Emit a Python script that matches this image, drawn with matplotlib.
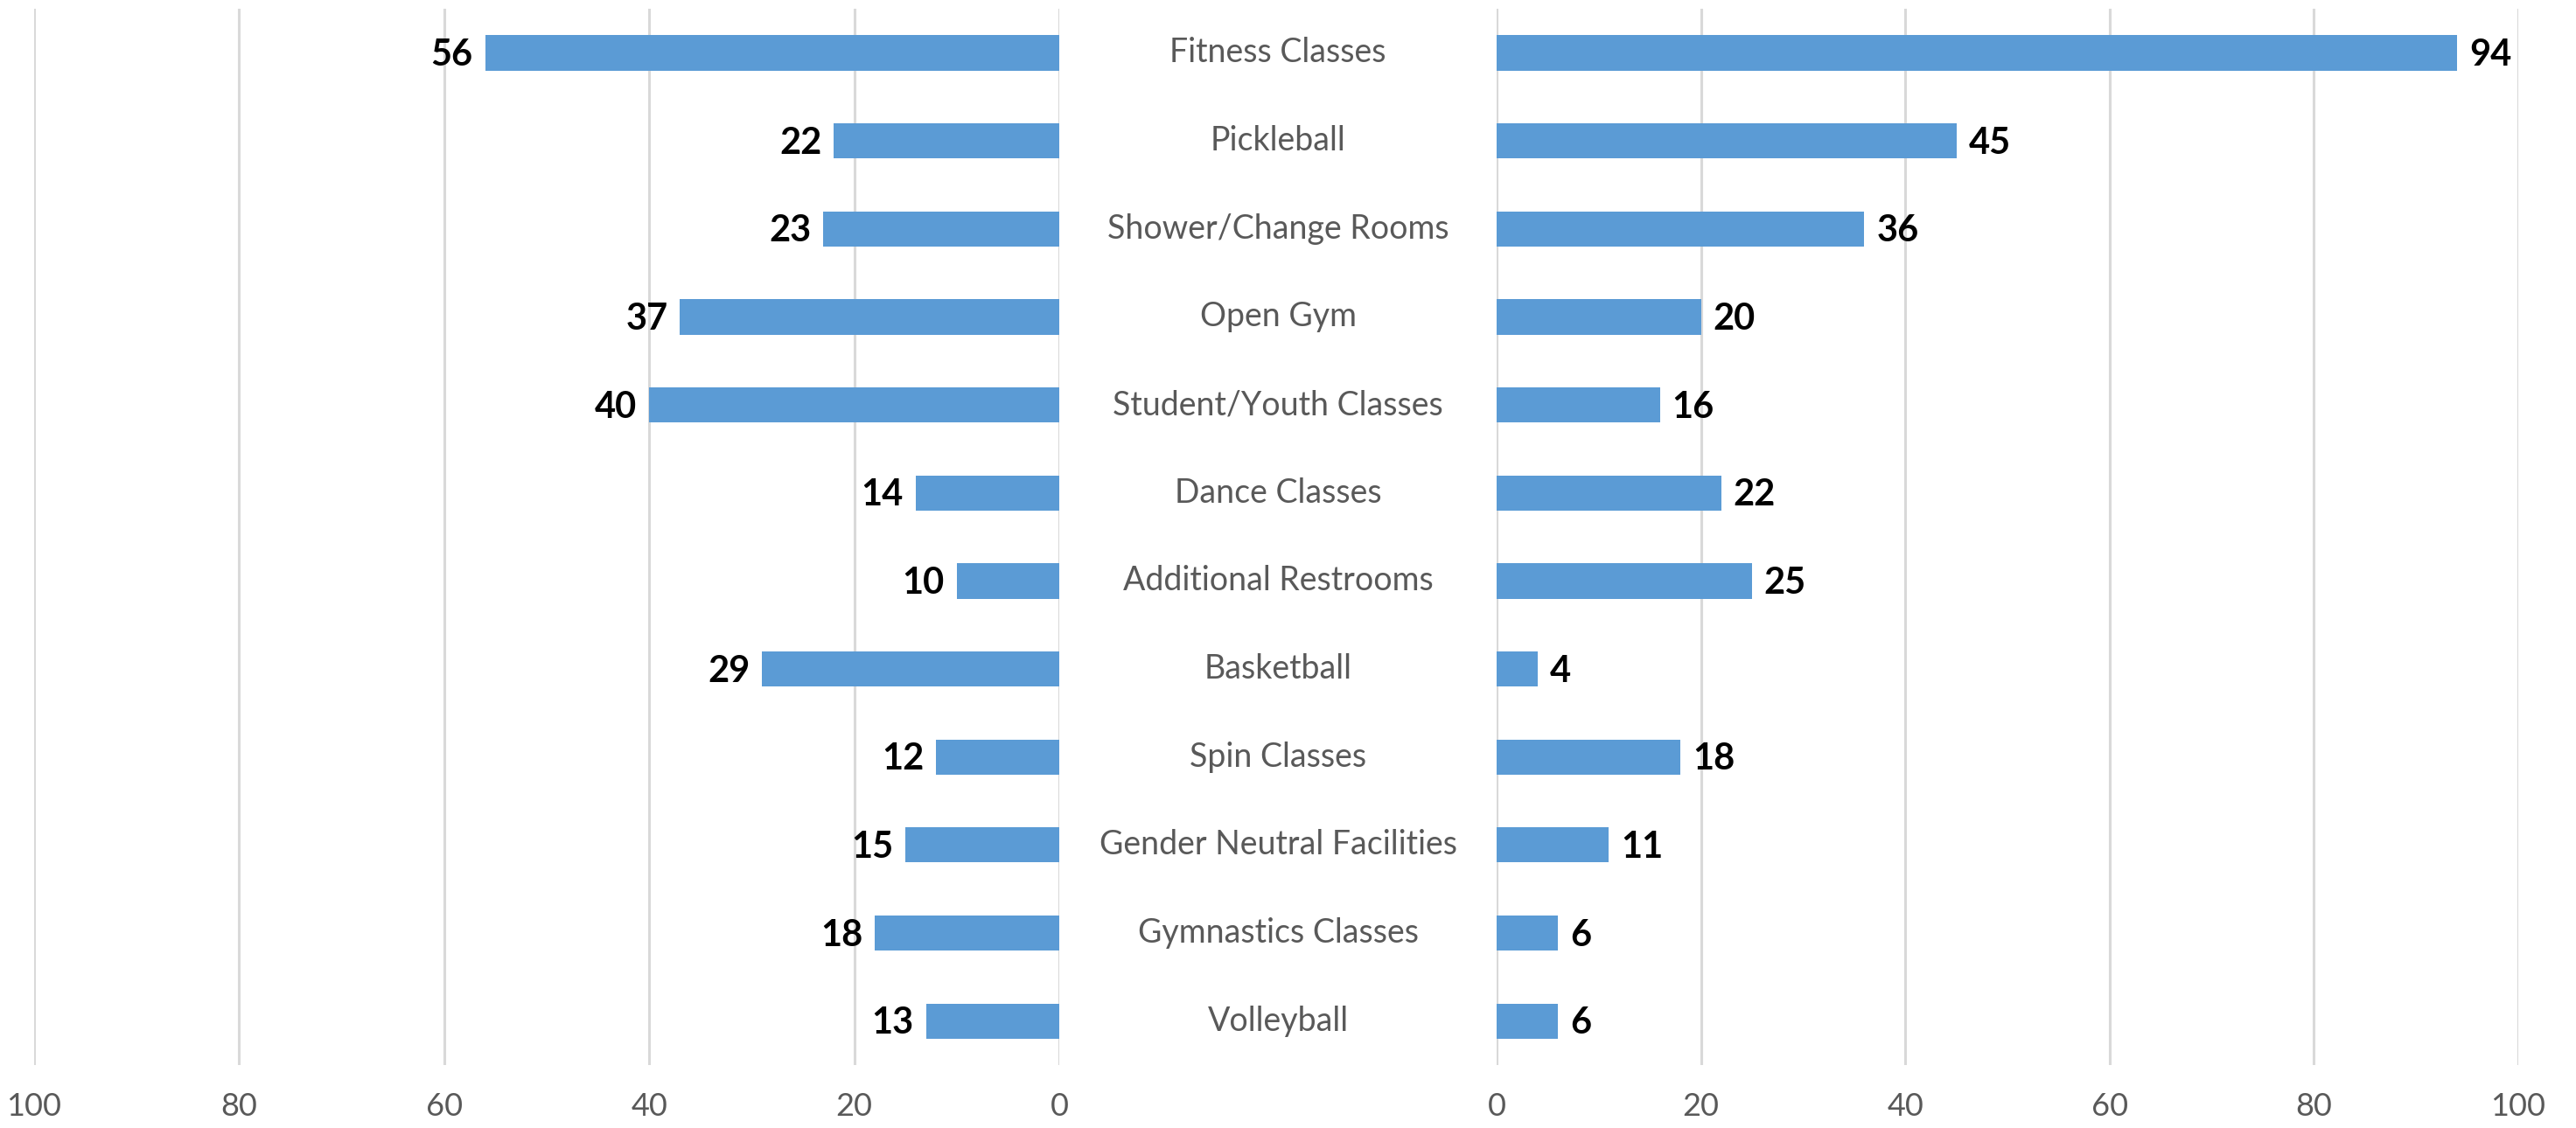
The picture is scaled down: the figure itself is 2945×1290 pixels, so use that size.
import matplotlib.pyplot as plt
from matplotlib.transforms import blended_transform_factory


CATEGORIES = [
    "Fitness Classes",
    "Pickleball",
    "Shower/Change Rooms",
    "Open Gym",
    "Student/Youth Classes",
    "Dance Classes",
    "Additional Restrooms",
    "Basketball",
    "Spin Classes",
    "Gender Neutral Facilities",
    "Gymnastics Classes",
    "Volleyball",
]
LEFT_VALUES = [56, 22, 23, 37, 40, 14, 10, 29, 12, 15, 18, 13]
RIGHT_VALUES = [94, 45, 36, 20, 16, 22, 25, 4, 18, 11, 6, 6]
TICKS = [0, 20, 40, 60, 80, 100]

BAR_COLOR = "#5B9BD5"
GRID_COLOR = "#D9D9D9"
TEXT_COLOR = "#595959"

plt.rcParams["font.family"] = ["Lato", "DejaVu Sans"]


def style_axes(ax, xlim):
    ax.set_xlim(*xlim)
    ax.set_ylim(len(CATEGORIES) - 0.5, -0.5)
    ax.set_xticks(TICKS)
    ax.set_yticks([])
    ax.grid(True, axis="x", color=GRID_COLOR, linewidth=2.2)
    ax.set_axisbelow(True)
    for spine in ax.spines.values():
        spine.set_visible(False)
    ax.tick_params(axis="x", length=0, pad=22, labelsize=26, labelcolor=TEXT_COLOR)


def main():
    fig = plt.figure(figsize=(29.45, 12.9), dpi=100)
    bottom, height = 0.0558, 0.9364
    ax_l = fig.add_axes([0.01324, bottom, 0.39796, height])
    ax_r = fig.add_axes([0.58098, bottom, 0.3966, height])

    ypos = list(range(len(CATEGORIES)))

    ax_l.barh(ypos, LEFT_VALUES, height=0.4, color=BAR_COLOR)
    ax_r.barh(ypos, RIGHT_VALUES, height=0.4, color=BAR_COLOR)

    style_axes(ax_l, (100, 0))
    style_axes(ax_r, (0, 100))

    for y, v in zip(ypos, LEFT_VALUES):
        ax_l.annotate(str(v), (v, y), xytext=(-10, -2), textcoords="offset points",
                      ha="right", va="center", fontsize=30, fontweight="bold", color="black")
    for y, v in zip(ypos, RIGHT_VALUES):
        ax_r.annotate(str(v), (v, y), xytext=(10, -2), textcoords="offset points",
                      ha="left", va="center", fontsize=30, fontweight="bold", color="black")

    # category names sit in the gap between the two panels
    trans = blended_transform_factory(fig.transFigure, ax_l.transData)
    for y, name in zip(ypos, CATEGORIES):
        ax_l.text(0.4961, y, name, transform=trans, ha="center", va="center",
                  fontsize=27, color=TEXT_COLOR, clip_on=False)

    fig.savefig("out.png", dpi=100, facecolor="white")
    plt.close(fig)


if __name__ == "__main__":
    main()
